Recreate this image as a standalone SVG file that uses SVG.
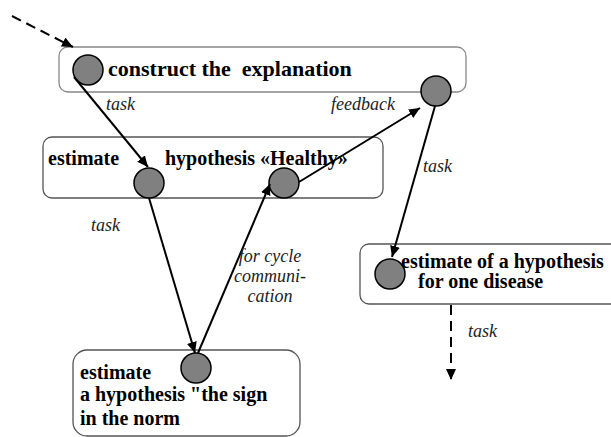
<svg xmlns="http://www.w3.org/2000/svg" width="611" height="437" viewBox="0 0 611 437">
<style>
.box{fill:#fff;stroke:#555;stroke-width:1.3}
.port{fill:#808080;stroke:#000;stroke-width:1.5}
text{font-family:'Liberation Serif','DejaVu Serif',serif}
.lbl{font-weight:bold;font-size:20px;fill:#000}
.it{font-style:italic;font-size:18px;fill:#222}
.ln{stroke:#000;stroke-width:2;fill:none}
.dash{stroke-dasharray:10 6}
</style>
<defs>
<marker id="ah" markerUnits="userSpaceOnUse" markerWidth="12" markerHeight="10" refX="11" refY="5" orient="auto">
<path d="M0,0 L11,5 L0,10 z" fill="#000"/>
</marker>
</defs>
<g id="construct">
<rect class="box" x="59" y="47" width="407" height="45" rx="9" style="stroke:#888"/>
<circle class="port" cx="88" cy="70" r="15"/>
<circle class="port" cx="436" cy="91" r="15"/>
<text class="lbl" x="108" y="76" font-family="Liberation Serif, serif" style="font-size:22px" xml:space="preserve">construct the  explanation</text>
</g>
<g id="healthy">
<rect class="box" x="43" y="137" width="340" height="61" rx="9"/>
<text class="lbl" x="48" y="165">estimate</text>
<text class="lbl" x="165" y="165">hypothesis «Healthy»</text>
<circle class="port" cx="149" cy="183" r="15"/>
<circle class="port" cx="284" cy="183" r="15"/>
</g>
<g id="disease">
<rect class="box" x="360" y="244" width="260" height="60" rx="9"/>
<circle class="port" cx="390" cy="274" r="15"/>
<text class="lbl" x="401" y="268">estimate of a hypothesis</text>
<text class="lbl" x="418" y="288">for one disease</text>
</g>
<g id="norm">
<rect class="box" x="73" y="350" width="227" height="86" rx="14"/>
<circle class="port" cx="196" cy="368" r="15"/>
<text class="lbl" x="80" y="379">estimate</text>
<text class="lbl" x="80" y="401">a hypothesis "the sign</text>
<text class="lbl" x="80" y="425">in the norm</text>
</g>
<g id="connectors">
<line class="ln dash" x1="12" y1="16" x2="73" y2="47" marker-end="url(#ah)"/>
<line class="ln" x1="74" y1="77" x2="148" y2="167" marker-end="url(#ah)"/>
<line class="ln" x1="149" y1="198" x2="195" y2="353" marker-end="url(#ah)"/>
<line class="ln" x1="198" y1="353" x2="270" y2="184" marker-end="url(#ah)"/>
<line class="ln" x1="299" y1="182" x2="420" y2="108" marker-end="url(#ah)"/>
<line class="ln" x1="435" y1="106" x2="392" y2="257" marker-end="url(#ah)"/>
<line class="ln dash" x1="451" y1="305" x2="451" y2="380" marker-end="url(#ah)"/>
<text class="it" x="106" y="110">task</text>
<text class="it" x="331" y="110">feedback</text>
<text class="it" x="423" y="172">task</text>
<text class="it" x="91" y="231">task</text>
<text class="it" x="270" y="262" text-anchor="middle">for cycle</text>
<text class="it" x="270" y="282" text-anchor="middle">communi-</text>
<text class="it" x="270" y="302" text-anchor="middle">cation</text>
<text class="it" x="468" y="337">task</text>
</g>
</svg>
